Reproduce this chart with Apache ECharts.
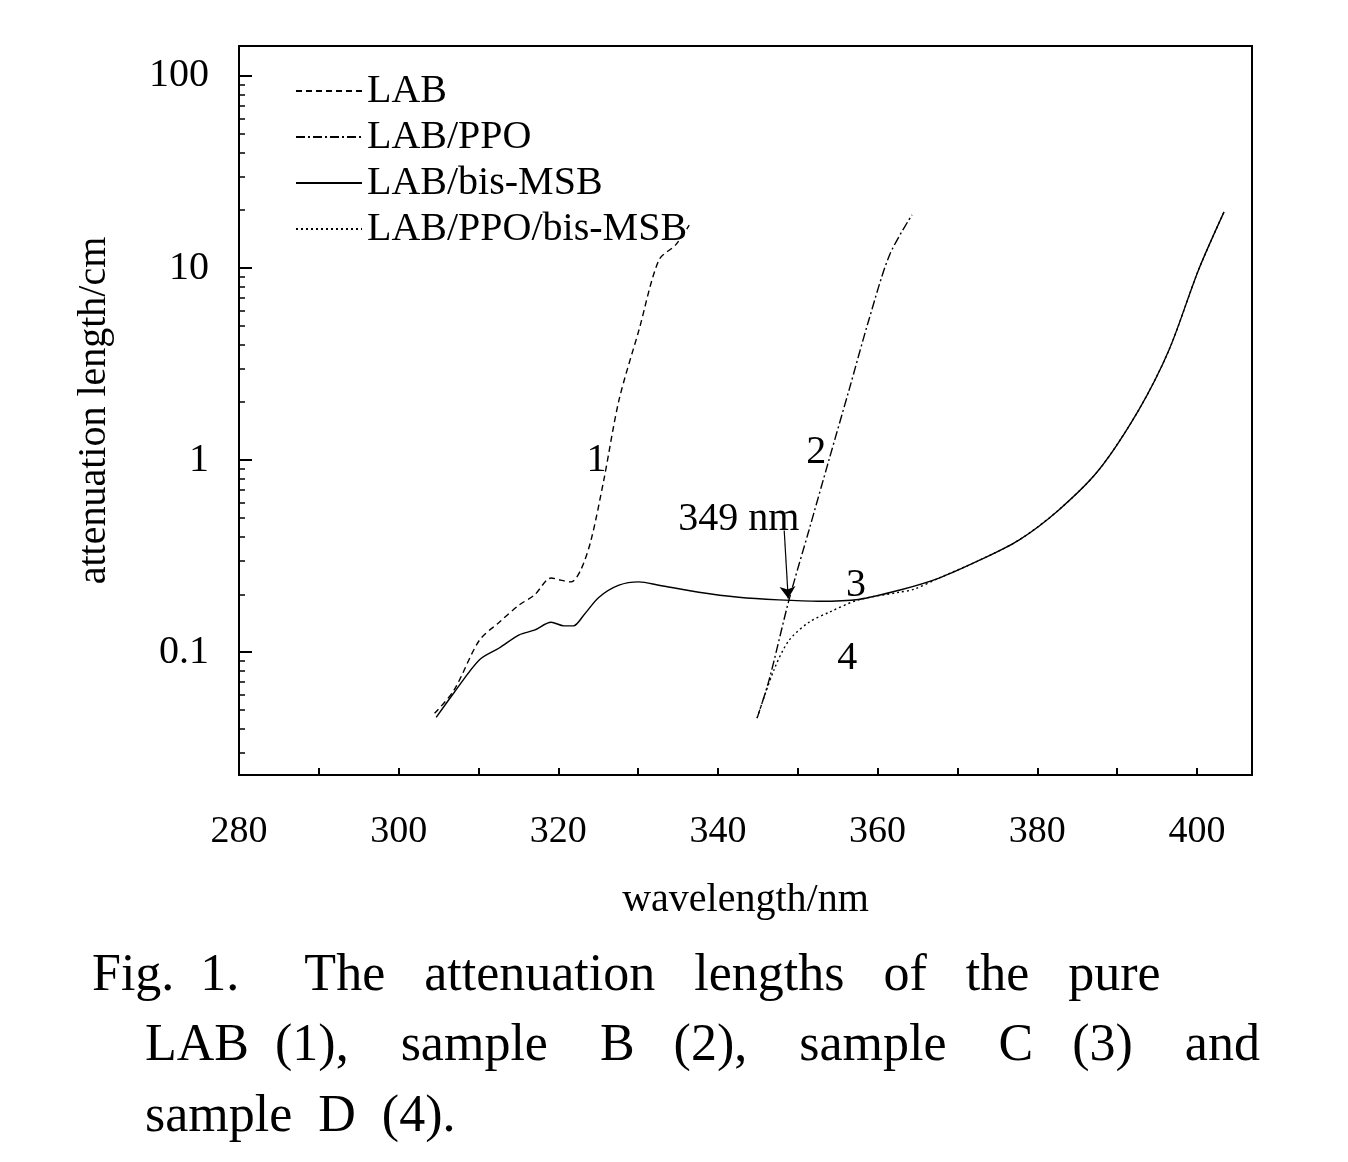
<!DOCTYPE html>
<html>
<head>
<meta charset="utf-8">
<script src="https://cdn.jsdelivr.net/npm/echarts@6/dist/echarts.min.js"></script>
<style>html,body{margin:0;padding:0;background:#fff}#chart{width:1348px;height:1162px}</style>
</head>
<body>
<div id="chart"></div>
<script>
'use strict';

// wavelength (nm) and attenuation length (cm)
let labX = [304.5, 306.9, 310.1, 312.6, 315.1, 317, 319.1, 320.3, 321.6, 322.8, 324.1, 325.7, 327.6, 330.1, 332.6, 334.7, 336.4];
let labY = [0.048, 0.063, 0.115, 0.143, 0.176, 0.198, 0.243, 0.237, 0.232, 0.267, 0.383, 0.787, 2.05, 4.75, 11.0, 13.2, 16.7];

let ppoX = [344.9, 346.4, 348.9, 351.4, 353.9, 356.4, 358.9, 361.5, 364.3];
let ppoY = [0.0453, 0.0714, 0.187, 0.431, 1.0, 2.3, 5.36, 11.7, 18.9];

let msbX = [304.7, 307, 310.1, 312.6, 315.1, 317, 319.1, 320.7, 321.9, 323.2, 325.1, 327.6, 330.1, 332.6, 337.6, 342.6, 347.6, 352.6, 357.6, 362.7, 367.7, 372.7, 377.7, 382.7, 387.7, 392.7, 396.5, 400.2, 403.4];
let msbY = [0.0457, 0.062, 0.091, 0.105, 0.123, 0.130, 0.143, 0.137, 0.137, 0.156, 0.193, 0.223, 0.232, 0.223, 0.205, 0.193, 0.187, 0.184, 0.188, 0.210, 0.243, 0.30, 0.383, 0.55, 0.887, 1.82, 3.74, 9.77, 19.6];

let allX = [344.9, 347, 348.9, 351.4, 353.9, 357.6, 362.7, 364.5, 367.7, 372.7, 377.7, 382.7, 387.7, 392.7, 396.5, 400.2, 403.4];
let allY = [0.0453, 0.0805, 0.115, 0.143, 0.161, 0.187, 0.205, 0.212, 0.243, 0.30, 0.383, 0.55, 0.887, 1.82, 3.74, 9.77, 19.6];

let xTicks = [280, 300, 320, 340, 360, 380, 400];
let yTickLabels = ['0.1', '1', '10', '100'];

let serif = '"Liberation Serif", "DejaVu Serif", serif';
let lg = Math.log10;

let toPairs = function (xs, ys) {
    return xs.map(function (x, i) { return [x, lg(ys[i])]; });
};

let minorY = [];
for (let d = -2; d <= 1; d++) {
    for (let k = 2; k <= 9; k++) {
        let v = lg(k * Math.pow(10, d));
        if (v > -1.64 && v < 2.156) minorY.push(v);
    }
}

let mkSeries = function (name, data, type, extra) {
    return Object.assign({
        name: name,
        type: 'line',
        data: data,
        symbol: 'none',
        smooth: 0.3,
        lineStyle: { color: '#000', width: 1.4, type: type },
        itemStyle: { color: '#000' }
    }, extra || {});
};

let lbl = function (text, x, y) {
    return {
        coord: [x, lg(y)], symbol: 'circle', symbolSize: 1,
        itemStyle: { color: 'rgba(0,0,0,0)' },
        label: { show: true, formatter: text, color: '#000', fontFamily: serif, fontSize: 40, position: 'inside' }
    };
};

let myChart = echarts.init(document.getElementById('chart'));
let option = {
    animation: false,
    backgroundColor: '#fff',
    grid: { left: 239, top: 46, right: 96, bottom: 387, show: true, borderColor: '#000', borderWidth: 2 },
    legend: {
        orient: 'vertical', left: 290, top: 66, itemGap: 6, itemWidth: 66, itemHeight: 10,
        itemStyle: { opacity: 0 },
        textStyle: { fontFamily: serif, fontSize: 40, color: '#000' },
        data: ['LAB', 'LAB/PPO', 'LAB/bis-MSB', 'LAB/PPO/bis-MSB']
    },
    xAxis: {
        type: 'value', min: 280, max: 406.9, interval: 10,
        axisLine: { onZero: false, lineStyle: { color: '#000', width: 2 } },
        axisTick: { inside: true, length: 7, lineStyle: { color: '#000', width: 2 } },
        splitLine: { show: false },
        axisLabel: {
            color: '#000', fontFamily: serif, fontSize: 38, margin: 38,
            formatter: function (v) { return xTicks.indexOf(v) >= 0 ? String(v) : ''; }
        },
        name: 'wavelength/nm', nameLocation: 'middle', nameGap: 105,
        nameTextStyle: { color: '#000', fontFamily: serif, fontSize: 40 }
    },
    yAxis: [{
        type: 'value', min: -1.64, max: 2.156,
        axisLine: { lineStyle: { color: '#000', width: 2 } },
        axisTick: { inside: true, length: 13, customValues: [-1, 0, 1, 2], lineStyle: { color: '#000', width: 2 } },
        splitLine: { show: false },
        axisLabel: {
            color: '#000', fontFamily: serif, fontSize: 40, margin: 30,
            customValues: [-1, 0, 1, 2],
            formatter: function (v) { return yTickLabels[Math.round(v) + 1]; }
        },
        name: 'attenuation length/cm', nameLocation: 'middle', nameGap: 125,
        nameTextStyle: { color: '#000', fontFamily: serif, fontSize: 40 }
    }, {
        type: 'value', min: -1.64, max: 2.156, position: 'left',
        axisLine: { show: false },
        axisTick: { inside: true, length: 6, customValues: minorY, lineStyle: { color: '#000', width: 1.5 } },
        axisLabel: { show: false },
        splitLine: { show: false }
    }],
    series: [
        mkSeries('LAB', toPairs(labX, labY), [6, 4], {
            markPoint: { data: [lbl('1', 324.8, 1.0)] }
        }),
        mkSeries('LAB/PPO', toPairs(ppoX, ppoY), [9, 3, 2, 3], {
            markPoint: { data: [lbl('2', 352.3, 1.09), lbl('349 nm', 342.6, 0.49)] },
            markLine: {
                symbol: ['none', 'arrow'], symbolSize: 12, silent: true,
                label: { show: false },
                lineStyle: { color: '#000', width: 1.2, type: 'solid' },
                data: [[{ coord: [348.3, lg(0.43)] }, { coord: [348.8, lg(0.19)] }]]
            }
        }),
        mkSeries('LAB/bis-MSB', toPairs(msbX, msbY), 'solid', {
            markPoint: { data: [lbl('3', 357.3, 0.222)] }
        }),
        mkSeries('LAB/PPO/bis-MSB', toPairs(allX, allY), [2, 3], {
            markPoint: { data: [lbl('4', 356.2, 0.0925)] }
        })
    ],
    graphic: [
        { type: 'text', left: 92, top: 950, style: { text: 'Fig.  1.     The   attenuation   lengths   of   the   pure', fontFamily: serif, fontSize: 52, fill: '#000' } },
        { type: 'text', left: 145, top: 1020, style: { text: 'LAB  (1),    sample    B   (2),    sample    C   (3)    and', fontFamily: serif, fontSize: 52, fill: '#000' } },
        { type: 'text', left: 145, top: 1091, style: { text: 'sample  D  (4).', fontFamily: serif, fontSize: 52, fill: '#000' } }
    ]
};
myChart.setOption(option);
</script>
</body>
</html>
